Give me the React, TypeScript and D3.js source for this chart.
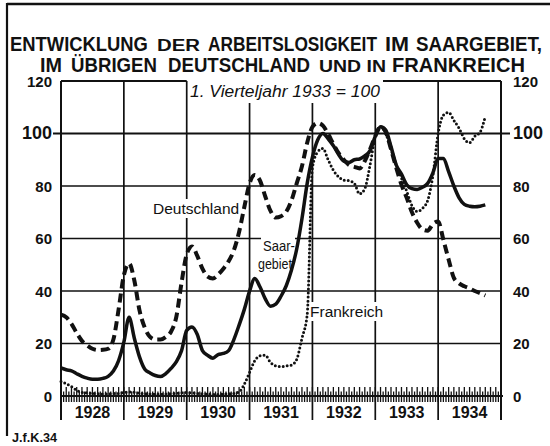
import React, { useLayoutEffect, useRef, useState } from 'react';
import * as d3 from 'd3';

// Month index 0 = January 1928
const years = ['1928', '1929', '1930', '1931', '1932', '1933', '1934'];
const yTickValues = [0, 20, 40, 60, 80, 100, 120];

const saarValues = [
  10.7, 10, 9.6, 8.5, 7.5, 6.8, 6.4, 6.4, 6.7, 7.5, 9.5, 13.5,
  20.5, 30, 22, 14.8, 10.2, 8.8, 7.8, 7.4, 8.5, 10.5, 13, 17.2,
  25, 26.3, 23.5, 17.3, 15.5, 14.4, 15.8, 16.2, 17.3, 21.5, 27, 33,
  40, 44.8, 41.5, 37, 34.2, 35, 38, 42, 48, 56, 67.5, 81,
  91, 97.5, 100, 98, 95.3, 92, 89.5, 89, 90, 90.3, 91.5, 93.5,
  99, 102.6, 101.3, 95, 88, 84.5, 80.5, 79, 78.7, 79.5, 81, 85,
  90.5, 90.5, 85.5, 80, 75.5, 73, 72.3, 72.1, 72.3, 72.8,
];

const deutschlandValues = [
  31, 30, 27.5, 24, 21, 19.3, 18, 17.5, 17.6, 18, 21.5, 33,
  46, 50.5, 44, 32.5, 26, 22.5, 21.5, 21.5, 22.5, 24.5, 30, 43,
  54, 57, 53.5, 48.5, 45.5, 44.8, 46.3, 48.5, 51.3, 55.5, 62.5, 72,
  81, 84.2, 82, 76, 70.5, 68, 68.5, 70.2, 74.5, 81, 87.5, 96.5,
  102.5, 104, 103, 99.8, 96, 92.5, 90, 88, 87.3, 86.7, 89.5, 94,
  99, 102.6, 100.5, 94, 87, 80.5, 75.5, 70, 66, 63.5, 63, 65.5,
  66.5, 59.5, 52, 45, 42.9, 41.8, 41, 40, 39.2, 38.3,
];

const frankreichValues = [
  5.5, 4.7, 3.6, 2.2, 1.4, 1.2, 1.0, 0.9, 0.8, 0.8, 0.9, 1.0,
  1.3, 1.5, 1.4, 1.1, 0.9, 0.8, 0.7, 0.7, 0.8, 0.9, 1.0, 1.2,
  1.3, 1.2, 1.0, 0.8, 0.7, 0.6, 0.6, 0.7, 0.8, 1.0, 1.5, 4.5,
  9, 13.5, 15.3, 15.5, 12.8, 11.5, 11.2, 11.5, 11.8, 14, 22, 31,
  87, 93, 94.3, 90, 86, 83.5, 82.2, 82, 81, 77, 79, 88,
  99, 102.6, 100, 94, 88, 83, 78, 72.5, 70.3, 71.5, 74.5, 84,
  100, 107, 108, 105, 102, 98, 96.5, 99, 100.5, 106.5,
];

// Title pieces: [text, font size, left, right]
const titleLine1: [string, number, number, number][] = [
  ['ENTWICKLUNG', 20, 10, 148],
  ['DER', 16, 157, 200],
  ['ARBEITSLOSIGKEIT', 20, 208, 377],
  ['IM', 20, 385, 409],
  ['SAARGEBIET,', 20, 416, 542],
];
const titleLine2: [string, number, number, number][] = [
  ['IM', 20, 40, 62],
  ['ÜBRIGEN', 20, 71, 157],
  ['DEUTSCHLAND', 20, 168, 310],
  ['UND IN', 16, 319, 386],
  ['FRANKREICH', 20, 392, 525],
];

const FONT = '"Liberation Sans", Arial, sans-serif';

type FitProps = {
  text: string;
  x: number;
  y: number;
  width: number;
  fontSize: number;
  fontWeight?: string;
  fontStyle?: string;
};

// Text squeezed horizontally to a given width (the original lettering is condensed)
function FitText({ text, x, y, width, fontSize, fontWeight, fontStyle }: FitProps) {
  const ref = useRef<SVGTextElement>(null);
  const [sx, setSx] = useState(1);
  useLayoutEffect(() => {
    if (ref.current) {
      const w = ref.current.getComputedTextLength();
      if (w > 0) setSx(width / w);
    }
  }, [text, width, fontSize]);
  return (
    <text
      ref={ref}
      transform={`translate(${x},${y}) scale(${sx},1)`}
      fontFamily={FONT}
      fontWeight={fontWeight}
      fontStyle={fontStyle}
      fontSize={fontSize}
      fill="#111"
    >
      {text}
    </text>
  );
}

export default function App() {
  const W = 550;
  const H = 446;
  const x = d3.scaleLinear().domain([0, 84]).range([61, 501]);
  const y = d3.scaleLinear().domain([0, 120]).range([396, 81]);
  const line = d3
    .line<number>()
    .x((_, i) => x(i))
    .y((d) => y(d))
    .curve(d3.curveMonotoneX);

  const yBottom = 420;
  const subtitleTop = 103;
  const months = d3.range(0, 84);
  const halfMonths = d3.range(0, 84).map((m) => m + 0.5);

  const renderTitle = (pieces: [string, number, number, number][], baseline: number) =>
    pieces.map(([t, fs, l, r], i) => (
      <FitText key={`${baseline}-${i}`} text={t} x={l} y={baseline} width={r - l} fontSize={fs} fontWeight="bold" />
    ));

  return (
    <svg
      width={W}
      height={H}
      viewBox={`0 0 ${W} ${H}`}
      style={{ position: 'absolute', left: 0, top: 0, display: 'block', background: '#fff' }}
    >
      <rect x={0} y={0} width={W} height={H} fill="#fff" />
      {/* outer frame */}
      <line x1={7} x2={W} y1={4} y2={4} stroke="#111" strokeWidth={2.5} />
      <line x1={7} x2={7} y1={3} y2={436} stroke="#111" strokeWidth={2.2} />

      {/* title */}
      {renderTitle(titleLine1, 51)}
      {renderTitle(titleLine2, 72)}

      {/* subtitle */}
      <FitText text="1. Vierteljahr 1933 = 100" x={190} y={97} width={190} fontSize={16} fontStyle="italic" />

      {/* top line, broken by the subtitle */}
      <line x1={x(0)} x2={x(24)} y1={y(120)} y2={y(120)} stroke="#111" strokeWidth={1.8} />
      <line x1={383} x2={x(84)} y1={y(120)} y2={y(120)} stroke="#111" strokeWidth={1.8} />

      {/* horizontal grid */}
      {yTickValues
        .filter((v) => v > 0 && v < 120)
        .map((v) => (
          <line
            key={`h${v}`}
            x1={v === 100 ? 53 : x(0)}
            x2={v === 100 ? 510 : x(84)}
            y1={y(v)}
            y2={y(v)}
            stroke="#111"
            strokeWidth={v === 100 ? 2 : 1.7}
          />
        ))}

      {/* vertical year lines */}
      {d3.range(0, 8).map((k) => {
        const m = k * 12;
        const top = k >= 3 && k <= 5 ? subtitleTop : y(120);
        return (
          <line
            key={`v${k}`}
            x1={x(Math.min(m, 84))}
            x2={x(Math.min(m, 84))}
            y1={top}
            y2={yBottom}
            stroke="#111"
            strokeWidth={k === 0 || k === 7 ? 2 : 1.7}
          />
        );
      })}

      {/* base axis */}
      <line x1={x(0)} x2={x(84) + 2} y1={y(0)} y2={y(0)} stroke="#111" strokeWidth={2.2} />
      {months.map((m) => (
        <line
          key={`t${m}`}
          x1={x(m)}
          x2={x(m)}
          y1={y(0) - 9}
          y2={y(0) + 6}
          stroke="#111"
          strokeWidth={1.3}
        />
      ))}
      {halfMonths.map((m) => (
        <line
          key={`ht${m}`}
          x1={x(m)}
          x2={x(m)}
          y1={y(0) - 4.5}
          y2={y(0) + 6}
          stroke="#111"
          strokeWidth={1.3}
        />
      ))}

      {/* year labels */}
      {years.map((yr, i) => (
        <text
          key={yr}
          x={(x(i * 12) + x(Math.min(i * 12 + 12, 84))) / 2}
          y={418}
          textAnchor="middle"
          fontFamily={FONT}
          fontWeight="bold"
          fontSize={16}
          fill="#111"
        >
          {yr}
        </text>
      ))}

      {/* y labels left and right */}
      {yTickValues.map((v) => (
        <g key={`yl${v}`}>
          <text
            x={52}
            y={y(v) + 5.5}
            textAnchor="end"
            fontFamily={FONT}
            fontWeight="bold"
            fontSize={v === 100 ? 18 : 15}
            fill="#111"
          >
            {v}
          </text>
          <text
            x={513}
            y={y(v) + 5.5}
            textAnchor="start"
            fontFamily={FONT}
            fontWeight="bold"
            fontSize={v === 100 ? 18 : 15}
            fill="#111"
          >
            {v}
          </text>
        </g>
      ))}

      {/* series labels with white backgrounds */}
      <rect x={151} y={199} width={91} height={19} fill="#fff" />
      <text x={153} y={214} fontFamily={FONT} fontSize={15.5} fill="#111">
        Deutschland
      </text>
      <rect x={261} y={234} width={34} height={38} fill="#fff" />
      <FitText text="Saar-" x={263} y={251} width={32} fontSize={15} />
      <FitText text="gebiet" x={258} y={269} width={34} fontSize={15} />
      <rect x={309} y={302} width={81} height={19} fill="#fff" />
      <text x={310} y={317} fontFamily={FONT} fontSize={15.5} fill="#111">
        Frankreich
      </text>

      {/* series */}
      <path
        d={line(frankreichValues) || ''}
        fill="none"
        stroke="#111"
        strokeWidth={3}
        strokeDasharray="0 4"
        strokeLinecap="round"
      />
      <path
        d={line(deutschlandValues) || ''}
        fill="none"
        stroke="#111"
        strokeWidth={4}
        strokeDasharray="9 5"
      />
      <path d={line(saarValues) || ''} fill="none" stroke="#111" strokeWidth={3.5} strokeLinejoin="round" />

      {/* signature */}
      <FitText text="J.f.K.34" x={12} y={442} width={45} fontSize={12} fontWeight="bold" />
    </svg>
  );
}
